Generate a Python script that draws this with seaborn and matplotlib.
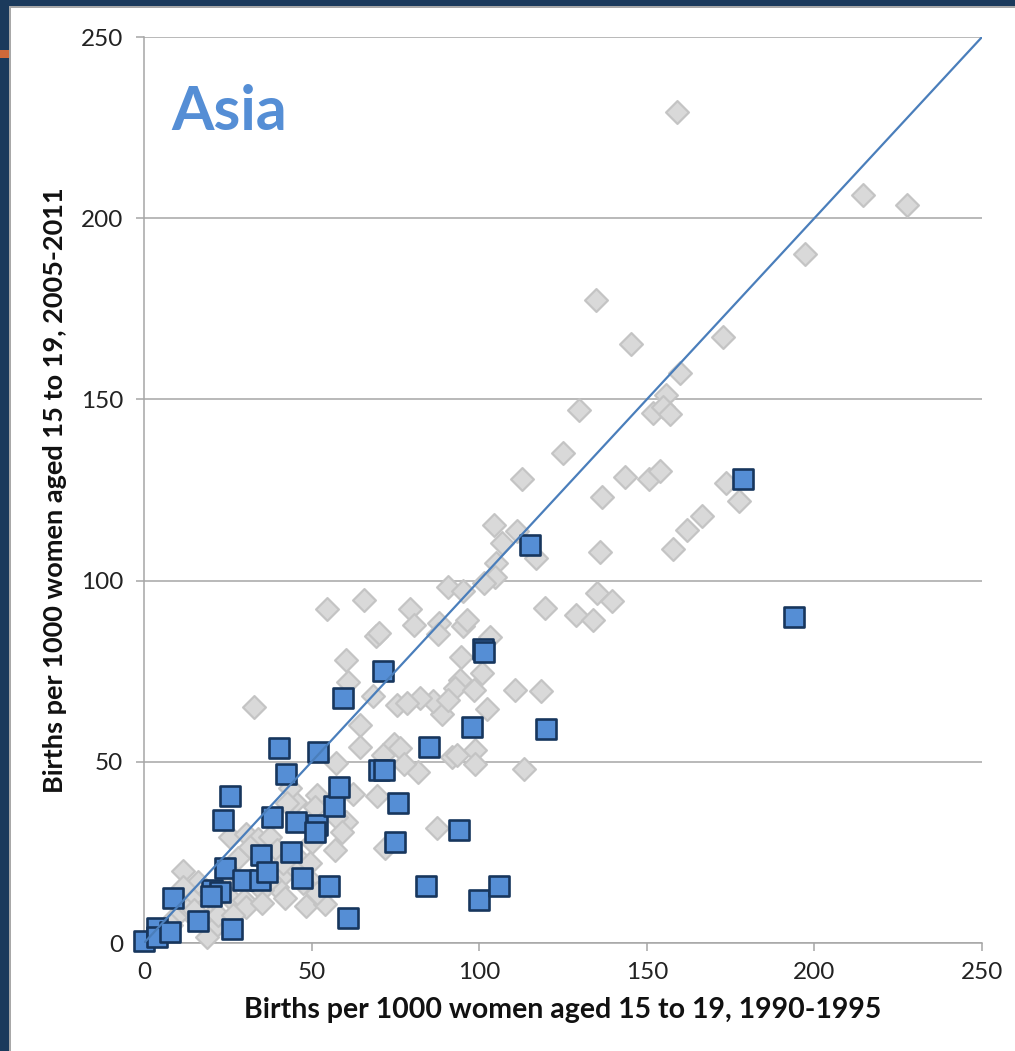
import matplotlib
matplotlib.use('Agg')
import matplotlib.pyplot as plt
import seaborn as sns
import pandas as pd
from matplotlib.patches import Rectangle

sns.set_theme(style='white')
plt.rcParams['font.family'] = ['Lato', 'DejaVu Sans']

# ---- data: all countries (grey diamonds) ----
all_x = [159.1, 214.6, 227.7, 197.2, 134.7, 145.3, 172.8, 159.9, 155.7, 151.8, 154.7, 157.0,
         129.8, 125.1, 112.7, 143.6, 150.6, 153.9, 173.5, 177.5, 136.7, 166.6, 161.9, 157.7,
         135.9, 117.0, 104.5, 111.2, 106.7, 104.9, 104.7, 101.4, 90.8, 95.3, 135.0, 139.5,
         119.6, 129.0, 133.9,
         79.4, 80.6, 88.1, 87.8, 95.3, 96.3, 103.2, 69.2, 70.2, 94.7, 100.9, 94.3, 92.7, 98.5,
         110.7, 118.4, 102.2, 88.8, 86.3, 75.4, 82.3, 78.6, 90.7, 74.6, 76.4, 91.8, 93.3, 98.7,
         98.7, 113.5, 81.8, 77.6, 87.5, 71.9,
         65.5, 54.6, 60.4, 60.9, 68.2, 64.4, 64.4, 71.4, 57.2, 62.4, 69.6, 32.7, 51.5, 45.0,
         43.6, 42.6, 60.4, 57.4, 59.0, 57.0, 50.0,
         11.7, 16.2, 14.0, 12.7, 9.2, 19.7, 21.2, 15.0, 25.7, 28.1, 30.3, 34.0, 25.7, 29.8,
         30.4, 22.0, 24.7, 37.6, 39.6, 41.1, 39.6, 48.2, 54.0, 51.0, 46.5, 50.0, 35.1, 31.6,
         11.7, 45.5, 47.5, 41.6, 49.5, 51.5, 18.7, 26.6, 37.6, 42.1, 35.1, 5.0, 2.0, 8.0]
all_y = [229.4, 206.4, 203.6, 190.1, 177.4, 165.2, 167.1, 157.4, 151.2, 146.2, 148.0, 145.9,
         147.1, 135.1, 128.1, 128.5, 128.1, 130.3, 127.0, 122.0, 123.2, 117.9, 114.1, 108.6,
         108.0, 106.1, 115.3, 113.8, 110.3, 104.8, 101.1, 99.2, 98.3, 97.1, 96.5, 94.5,
         92.4, 90.5, 89.1,
         92.3, 87.7, 88.2, 85.4, 87.5, 89.1, 84.3, 84.6, 85.6, 79.0, 74.4, 72.6, 70.3, 69.8,
         69.8, 69.5, 64.7, 63.2, 66.8, 65.8, 67.5, 66.1, 67.0, 54.8, 53.9, 51.4, 51.9, 53.3,
         49.3, 48.0, 47.1, 49.4, 31.6, 26.3,
         94.6, 92.3, 78.1, 72.1, 68.1, 60.1, 54.0, 51.9, 49.6, 41.0, 40.6, 65.2, 40.8, 39.0,
         42.7, 38.5, 33.5, 34.8, 30.7, 25.7, 28.0,
         20.0, 16.9, 12.3, 9.1, 7.3, 7.3, 4.5, 9.1, 29.3, 23.4, 30.0, 28.6, 12.5, 12.0,
         9.8, 7.6, 19.7, 29.3, 25.7, 18.5, 15.5, 10.1, 10.7, 37.6, 22.9, 16.9, 14.6, 26.6,
         15.5, 20.1, 16.5, 22.0, 22.0, 13.7, 1.7, 7.7, 17.4, 12.3, 10.9, 3.0, 1.0, 5.0]

# ---- data: Asia (blue squares) ----
asia_x = [0.0, 3.8, 3.9, 7.8, 8.7, 16.2, 26.2, 20.2, 22.7, 20.0, 24.1, 29.5, 34.7, 35.0,
          36.6, 44.0, 47.0, 55.3, 61.0, 23.6, 38.1, 45.4, 51.5, 51.1, 25.6, 56.8, 58.1,
          42.3, 40.4, 52.0, 59.3, 71.2, 70.0, 71.5, 75.9, 74.8, 85.0, 98.0, 101.0, 101.3,
          119.8, 94.0, 84.1, 99.9, 106.0, 115.2, 178.8, 193.9]
asia_y = [0.6, 4.1, 1.7, 3.1, 12.4, 6.2, 4.0, 14.6, 14.2, 13.0, 20.8, 17.3, 17.5, 24.4,
          19.7, 25.2, 17.8, 15.8, 6.8, 34.0, 34.8, 33.5, 32.6, 30.5, 40.6, 37.8, 43.1,
          46.5, 53.8, 52.8, 67.7, 75.0, 47.8, 47.8, 38.5, 28.0, 54.2, 59.7, 81.2, 80.2,
          59.0, 31.2, 15.8, 12.0, 15.8, 109.8, 128.0, 90.0]

diag = [0, 250]
ticks = [0, 50, 100, 150, 200, 250]
x_label = 'Births per 1000 women aged 15 to 19, 1990-1995'
y_label = 'Births per 1000 women aged 15 to 19, 2005-2011'
title = 'Asia'

df_all = pd.DataFrame({'x': all_x, 'y': all_y})
df_asia = pd.DataFrame({'x': asia_x, 'y': asia_y})

W, H = 1015, 1051
fig = plt.figure(figsize=(W / 100, H / 100), dpi=100)
fig.patch.set_facecolor('white')

# slide frame decoration
navy = '#1B3A5C'
fig.add_artist(Rectangle((0, 0), 9 / W, 1, transform=fig.transFigure, color=navy, lw=0))
fig.add_artist(Rectangle((0, 1 - 6 / H), 1, 6 / H, transform=fig.transFigure, color=navy, lw=0))
fig.add_artist(Rectangle((9 / W, 0), 2 / W, 1 - 6 / H, transform=fig.transFigure, color='#a8a8a8', lw=0))
fig.add_artist(Rectangle((9 / W, 1 - 8 / H), 1, 2 / H, transform=fig.transFigure, color='#a8a8a8', lw=0))
fig.add_artist(Rectangle((0, 1 - 58 / H), 9 / W, 8 / H, transform=fig.transFigure, color='#D0693A', lw=0))

ax = fig.add_axes([144 / W, 108 / H, 838 / W, 906 / H])
ax.set_facecolor('white')

sns.scatterplot(data=df_all, x='x', y='y', ax=ax, marker='D', s=135,
                color='#d9d9d9', edgecolor='#c4c4c4', linewidth=1.6, zorder=3, clip_on=False)
sns.scatterplot(data=df_asia, x='x', y='y', ax=ax, marker='s', s=225,
                color='#558ED5', edgecolor='#17365D', linewidth=1.9, zorder=4, clip_on=False)
ax.plot(diag, diag, color='#4A7EBB', lw=1.6, zorder=5)

ax.set_xlim(0, 250)
ax.set_ylim(0, 250)
ax.set_xticks(ticks)
ax.set_yticks(ticks)
ax.yaxis.grid(True, color='#a6a6a6', lw=1.1, zorder=0)
ax.xaxis.grid(False)
for s in ['top', 'right']:
    ax.spines[s].set_visible(False)
for s in ['left', 'bottom']:
    ax.spines[s].set_color('#a6a6a6')
    ax.spines[s].set_linewidth(1.1)
ax.tick_params(axis='both', direction='out', length=6, width=1.1, color='#a6a6a6',
               labelsize=17.5, labelcolor='#222222')
ax.tick_params(axis='y', pad=9, left=True)
ax.tick_params(axis='x', pad=8, bottom=True)

ax.set_xlabel(x_label, fontsize=20.5, fontweight='bold', color='#111111', labelpad=10)
ax.set_ylabel(y_label, fontsize=19.5, fontweight='bold', color='#111111', labelpad=10)

ax.text(0.033, 0.897, title, transform=ax.transAxes, fontsize=44, fontweight='bold',
        color='#558ED5', va='baseline', ha='left')

fig.savefig('out.png', dpi=100)
